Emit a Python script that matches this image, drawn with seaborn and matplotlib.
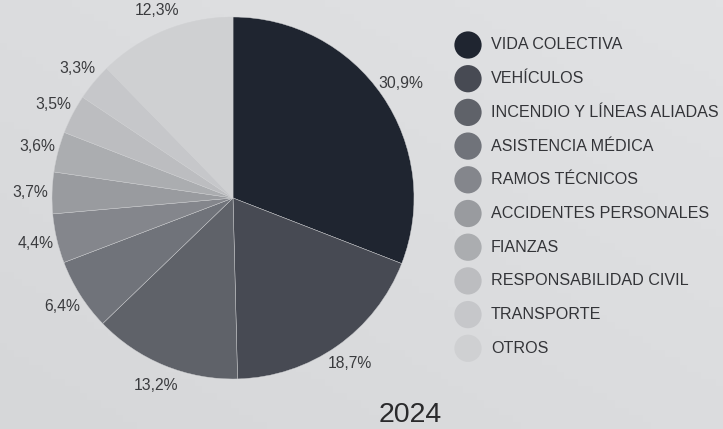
import numpy as np
import matplotlib
matplotlib.use("Agg")
import matplotlib.pyplot as plt
import seaborn as sns

categories = ["VIDA COLECTIVA", "VEHÍCULOS", "INCENDIO Y LÍNEAS ALIADAS",
              "ASISTENCIA MÉDICA", "RAMOS TÉCNICOS", "ACCIDENTES PERSONALES",
              "FIANZAS", "RESPONSABILIDAD CIVIL", "TRANSPORTE", "OTROS"]
values = [30.9, 18.7, 13.2, 6.4, 4.4, 3.7, 3.6, 3.5, 3.3, 12.3]
colors = ["#1f2530", "#474a53", "#5f6269", "#70737a", "#84868c",
          "#999b9f", "#abadb0", "#bcbdc0", "#c6c7ca", "#cfd0d2"]
title = "2024"

sns.set_theme(style="white")
plt.rcParams["font.family"] = ["Liberation Sans", "DejaVu Sans"]

W, H = 723, 429
fig = plt.figure(figsize=(W / 100, H / 100), dpi=100)
bg = "#dadbdd"
fig.patch.set_facecolor(bg)

# subtle background gradient
gax = fig.add_axes([0, 0, 1, 1], zorder=-10)
gy, gx = np.mgrid[0:1:60j, 0:1:100j]
grad = 0.5 * gx + 0.5 * (1 - gy)
gax.imshow(grad, cmap=matplotlib.colors.LinearSegmentedColormap.from_list(
    "bg", ["#d6d7d9", "#e1e2e4"]), aspect="auto", extent=[0, 1, 0, 1], origin="upper")
gax.axis("off")

# pie axes: center (233,198), radius 181 px
cx, cy, r = 233, 198, 181
ax = fig.add_axes([(cx - r) / W, (H - cy - r) / H, 2 * r / W, 2 * r / H])
ax.set_facecolor("none")
wedges, _ = ax.pie(values, colors=colors, startangle=90, counterclock=False,
                   radius=1.0, wedgeprops=dict(edgecolor="#d0d1d3", linewidth=0.3))
ax.set_xlim(-1, 1)
ax.set_ylim(-1, 1)
ax.set_aspect("equal")
ax.axis("off")

for w, v in zip(wedges, values):
    th = np.deg2rad((w.theta1 + w.theta2) / 2)
    d = 1.12
    ax.text(d * np.cos(th), d * np.sin(th), f"{v:.1f}%".replace(".", ","),
            ha="center", va="center", fontsize=11.3, color="#3a3b3e")

# legend axes
top, step = 45, 33.7
lax = fig.add_axes([440 / W, (H - (top - step / 2) - step * 10) / H, 283 / W, step * 10 / H])
ys = np.arange(len(categories))
sns.scatterplot(x=[28] * len(categories), y=ys, hue=categories, palette=colors,
                s=385, linewidth=0, legend=False, ax=lax, clip_on=False)
lax.set_xlim(0, 283)
lax.set_ylim(9.5, -0.5)
lax.axis("off")
for i, c in enumerate(categories):
    lax.text(51, i, c, ha="left", va="center", fontsize=11.6, color="#333438")

fig.text(410 / W, 1 - 422 / H, title, ha="center", va="baseline",
         fontsize=20.5, color="#2a2a2c")

fig.savefig("out.png", dpi=100)
